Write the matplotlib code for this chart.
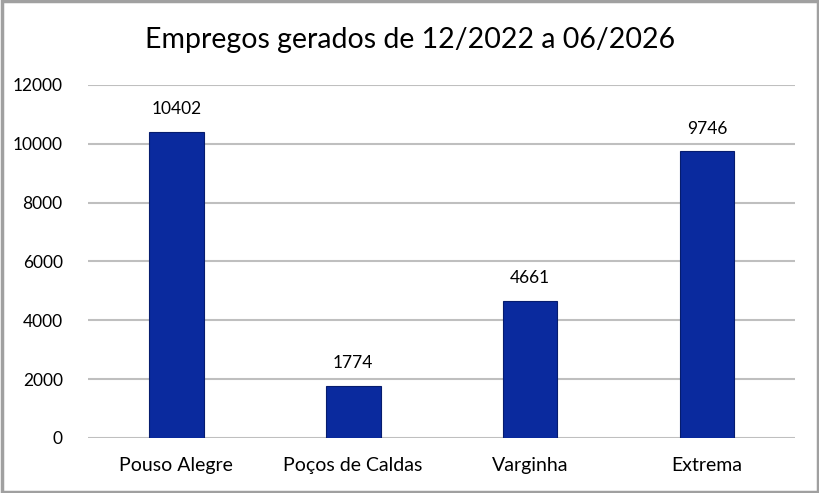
import matplotlib.pyplot as plt
import numpy as np

cidades = ["Pouso Alegre", "Poços de Caldas", "Varginha", "Extrema"]
empregos = [10402, 1774, 4661, 9746]
yticks = [0, 2000, 4000, 6000, 8000, 10000, 12000]

plt.rcParams['font.family'] = ['Lato', 'DejaVu Sans']

fig = plt.figure(figsize=(8.2, 4.93), dpi=100)
ax = fig.add_axes([0.107, 0.1116, 0.863, 0.716])

x = np.arange(len(cidades))
bars = ax.bar(x, empregos, width=0.31, color='#0a2a9e', edgecolor='#061c6e', linewidth=0.8, zorder=3)

for b, v in zip(bars, empregos):
    ax.text(b.get_x() + b.get_width() / 2, v + 500, str(v), ha='center', va='bottom',
            fontsize=12.5, color='#000000')

ax.set_ylim(0, 12000)
ax.set_xlim(-0.5, len(cidades) - 0.5)
ax.set_yticks(yticks)
ax.set_yticklabels([str(t) for t in yticks], fontsize=12.5, color='#000000')
ax.set_xticks(x)
ax.set_xticklabels(cidades, fontsize=14, color='#000000')
ax.tick_params(axis='x', length=0, pad=14)
ax.tick_params(axis='y', length=0, pad=18)
ax.grid(axis='y', color='#bfbfbf', linewidth=1.5, zorder=0)
for s in ax.spines.values():
    s.set_visible(False)

fig.suptitle("Empregos gerados de 12/2022 a 06/2026", fontsize=20.5, y=0.945, color='#000000')

border = plt.Rectangle((0.002, 0.003), 0.996, 0.994, transform=fig.transFigure,
                       fill=False, edgecolor='#a0a0a0', linewidth=2.5)
fig.patches.append(border)

fig.savefig("out.png", dpi=100)
